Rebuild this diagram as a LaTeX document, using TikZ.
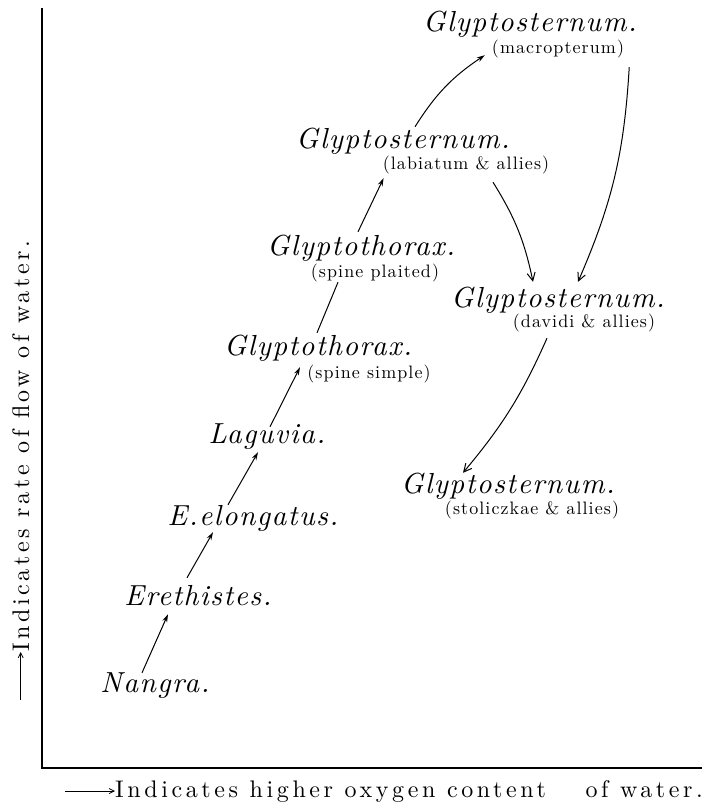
\documentclass[tikz,border=0pt]{standalone}
\usepackage{fontspec}
\setmainfont{lmroman10}[Extension=.otf,UprightFont=*-regular,ItalicFont=*-italic]
\newfontfamily\genusfont{lmroman10}[Extension=.otf,UprightFont=*-regular,ItalicFont=*-italic,LetterSpace=5]
\newfontfamily\kindfont{lmroman10}[Extension=.otf,UprightFont=*-regular,LetterSpace=6]
\newfontfamily\axisfont{lmroman10}[Extension=.otf,UprightFont=*-regular,LetterSpace=15]
\usetikzlibrary{arrows.meta}
\tikzset{
  >={Stealth[length=8pt,width=5pt]},
  genus/.style={font=\genusfont\itshape\fontsize{29}{31}\selectfont,inner sep=1pt,text height=20pt,text depth=7pt,anchor=base},
  kind/.style={font=\kindfont\fontsize{18}{20}\selectfont,inner sep=1pt,text height=12pt,text depth=4pt,anchor=base},
  axislabel/.style={font=\axisfont\fontsize{24}{26}\selectfont,inner sep=0pt,anchor=base west},
  rise/.style={->,line width=1pt},
  fall/.style={-{Straight Barb[length=8pt,width=8pt]},line width=1pt},
  axis/.style={line width=1.4pt},
  pointer/.style={-{Straight Barb[length=5pt,width=5pt]},line width=0.8pt}
}

\begin{document}
\begin{tikzpicture}[x=1pt,y=-1pt]
  \useasboundingbox (0,0) rectangle (706,808);
  % axes
  \coordinate (origin) at (42,768);
  \draw[axis] (42,8) -- (origin) -- (702,768);
  \node[axislabel] (xlabel) at (115,797) {Indicates higher oxygen content\hspace{28pt} of water.};
  \coordinate (xtail) at ([xshift=-50pt]xlabel.west);
  \draw[pointer] (xtail) -- (xlabel.west);
  \node[axislabel,rotate=90] (ylabel) at (29,652) {Indicates rate of flow of water.};
  \coordinate (ytail) at ([yshift=-48pt]ylabel.west);
  \draw[pointer] (ytail) -- (ylabel.west);
  % genera
  \node[genus] (nangra) at (155,692) {Nangra.};
  \node[genus] (erethistes) at (198,605) {Erethistes.};
  \node[genus] (elongatus) at (253,525) {E.elongatus.};
  \node[genus] (laguvia) at (267,443) {Laguvia.};
  \node[genus] (simple) at (318,355) {Glyptothorax.};
  \node[kind] (simplekind) at (369,378) {(spine simple)};
  \node[genus] (plaited) at (361,255) {Glyptothorax.};
  \node[kind] (plaitedkind) at (375,277) {(spine plaited)};
  \node[genus] (labiatum) at (403,148) {Glyptosternum.};
  \node[kind] (labiatumkind) at (466,169) {(labiatum \& allies)};
  \node[genus] (macropterum) at (530,32) {Glyptosternum.};
  \node[kind] (macropterumkind) at (558,54) {(macropterum)};
  \node[genus] (davidi) at (558,307) {Glyptosternum.};
  \node[kind] (davidikind) at (584,327) {(davidi \& allies)};
  \node[genus] (stoliczkae) at (508,493) {Glyptosternum.};
  \node[kind] (stoliczkaekind) at (532,514) {(stoliczkae \& allies)};
  % lines of descent
  \draw[rise] ([xshift=-13pt,yshift=-2pt]nangra.north) -- ([xshift=-30pt,yshift=-1pt]erethistes.south);
  \draw[rise] ([xshift=-11pt,yshift=6pt]erethistes.north) -- ([xshift=-40pt,yshift=1pt]elongatus.south);
  \draw[rise] ([xshift=-25pt,yshift=-1pt]elongatus.north) -- ([xshift=-9pt,yshift=-1pt]laguvia.south);
  \draw[rise] ([xshift=3pt,yshift=-5pt]laguvia.north) -- ([xshift=-18pt,yshift=-4pt]simple.south);
  \draw[line width=1pt] ([xshift=-1pt,yshift=1pt]simple.north) -- ([xshift=-37pt]plaitedkind.south);
  \draw[rise] ([xshift=-3pt,yshift=2pt]plaited.north) -- ([xshift=2pt,yshift=-4pt]labiatumkind.south west);
  \draw[rise] ([xshift=12pt]labiatum.north) to[bend left=12] ([xshift=-6pt,yshift=4pt]macropterumkind.south west);
  \draw[fall] ([xshift=4pt,yshift=-8pt]macropterumkind.south east) to[bend left=10] ([xshift=20pt,yshift=4pt]davidi.north);
  \draw[fall] ([xshift=27pt,yshift=-8pt]labiatumkind.south) to[bend left=10] ([xshift=-25pt,yshift=4pt]davidi.north);
  \draw[fall] ([xshift=-37pt,yshift=-6pt]davidikind.south) to[bend left=8] ([xshift=-45pt,yshift=-1pt]stoliczkae.north);
\end{tikzpicture}
\end{document}
